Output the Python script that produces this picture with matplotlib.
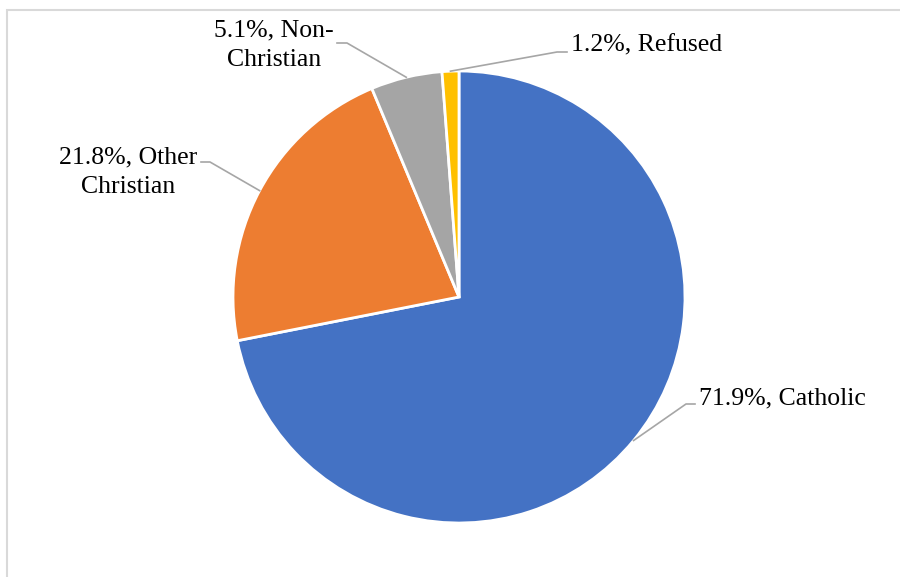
import numpy as np
import matplotlib.pyplot as plt
from matplotlib.patches import Rectangle

# data
labels = ["Catholic", "Other\nChristian", "Non-\nChristian", "Refused"]
shares = [71.9, 21.8, 5.1, 1.2]
colors = ["#4472C4", "#ED7D31", "#A5A5A5", "#FFC000"]

W, H = 900, 577
cx, cy, R = 459, 297, 226  # pie centre / radius in pixels

def px(x, y):
    # pixel position -> data units (pie centre at 0,0, radius 1)
    return (x - cx) / R, (cy - y) / R

# label text position, alignment, elbow and end of the leader (pixels)
label_pos = [(699, 398, "left"), (128, 172, "center"), (274, 45, "center"), (571, 45, "left")]
elbows = [((210, 162), (201, 162)), ((210, 162), (201, 162)),
          ((347, 43), (337, 43)), ((557, 52), (567, 52))]
elbows[0] = ((686, 404), (695, 404))

fig = plt.figure(figsize=(W / 100, H / 100), dpi=100)
ax = fig.add_axes([0, 0, 1, 1])

wedges, _ = ax.pie(shares, colors=colors, startangle=90, counterclock=False,
                   radius=1, wedgeprops=dict(edgecolor="white", linewidth=2))
ax.set_xlim(-cx / R, (W - cx) / R)
ax.set_ylim(-(H - cy) / R, cy / R)
ax.axis("off")

for w, s, lab, (tx, ty, ha), (e1, e2) in zip(wedges, shares, labels, label_pos, elbows):
    ang = np.deg2rad((w.theta1 + w.theta2) / 2)
    x0, y0 = np.cos(ang), np.sin(ang)
    x1, y1 = px(*e1)
    x2, y2 = px(*e2)
    ax.plot([x0, x1, x2], [y0, y1, y2], color="#A6A6A6", lw=1.2)
    first, *rest = lab.split("\n")
    txt = f"{s:.1f}%, {first}" + ("\n" + rest[0] if rest else "")
    ax.text(*px(tx, ty), txt, ha=ha, va="center", fontsize=18.5,
            family="Liberation Serif", linespacing=1.45)

# chart border (only left and top visible in the crop)
fig.patches.append(Rectangle((7 / W, -0.1), 1.2, 1.1 - 10 / H, transform=fig.transFigure,
                             fill=False, edgecolor="#D9D9D9", lw=1.5))

fig.savefig("out.png", dpi=100)
